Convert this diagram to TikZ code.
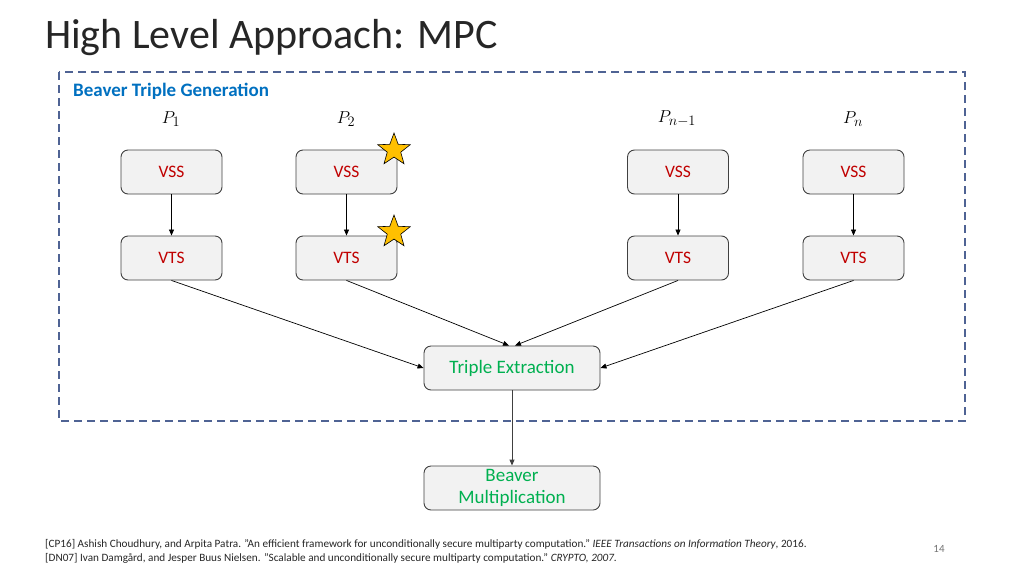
\documentclass[tikz,border=0pt]{standalone}
\usepackage{fontspec}
\setmainfont{Carlito}
\usetikzlibrary{arrows.meta,shapes.geometric}
\definecolor{boxfill}{HTML}{F2F2F2}
\definecolor{boxdraw}{HTML}{404040}
\definecolor{vred}{HTML}{C00000}
\definecolor{tgreen}{HTML}{00B050}
\definecolor{tblue}{HTML}{0070C0}
\definecolor{dashcol}{HTML}{4F6394}
\definecolor{starcol}{HTML}{FFC000}
\tikzset{
  proc/.style={draw=boxdraw, line width=0.9pt, fill=boxfill, rounded corners=7pt, minimum width=101pt, minimum height=44pt, inner sep=0pt, font=\fontsize{17.5}{20}\selectfont, text=vred},
  big/.style={proc, minimum width=176pt, text=tgreen, font=\fontsize{19}{22.5}\selectfont, align=center},
  arr/.style={-{Triangle[length=6pt,width=5pt]}, line width=0.7pt, black},
  plab/.style={font=\fontsize{19}{21}\selectfont},
  starshape/.style={star, star points=5, star point ratio=2.4, minimum size=34pt, inner sep=0pt, fill=starcol, draw=black, line width=0.6pt}
}
\begin{document}
\begin{tikzpicture}[x=1pt,y=-1pt]
\useasboundingbox (0,0) rectangle (1024,576);
\node[anchor=west, inner sep=0pt, font=\fontsize{42}{46}\selectfont, text=black!85] (title) at (45,38) {High Level Approach: MPC};
\draw[dashcol, line width=1.3pt, dash pattern=on 8pt off 5pt] (59,72) rectangle (965,421);
\node[anchor=west, inner sep=0pt, font=\fontsize{19}{21}\selectfont\bfseries, text=tblue] (btg) at (73,91) {Beaver Triple Generation};
\node[plab] (p1) at (171,119) {$P_1$};
\node[plab] (p2) at (346,119) {$P_2$};
\node[plab] (p3) at (677,119) {$P_{n-1}$};
\node[plab] (p4) at (853,119) {$P_n$};
\node[proc] (s1) at (171.5,172) {VSS};
\node[proc] (s2) at (346.5,172) {VSS};
\node[proc] (s3) at (678,172) {VSS};
\node[proc] (s4) at (853.5,172) {VSS};
\node[proc] (t1) at (171.5,258) {VTS};
\node[proc] (t2) at (346.5,258) {VTS};
\node[proc] (t3) at (678,258) {VTS};
\node[proc] (t4) at (853.5,258) {VTS};
\node[starshape] (st1) at (394,150) {};
\node[starshape] (st2) at (394,232) {};
\node[big] (te) at (512,368) {Triple Extraction};
\node[big] (bm) at (512,488) {Beaver\\Multiplication};
\draw[arr] (s1) -- (t1);
\draw[arr] (s2) -- (t2);
\draw[arr] (s3) -- (t3);
\draw[arr] (s4) -- (t4);
\draw[arr] (t1.south) -- (te.west);
\draw[arr] (t2.south) -- ([xshift=-3pt]te.north);
\draw[arr] (t3.south) -- ([xshift=3pt]te.north);
\draw[arr] (t4.south) -- (te.east);
\draw[arr, boxdraw, line width=1pt] (te) -- (bm);
\node[anchor=west, inner sep=0pt, align=left, font=\fontsize{11.2}{14}\selectfont, text=black!85] (refs) at (45,551) {[CP16] Ashish Choudhury, and Arpita Patra. "An efficient framework for unconditionally secure multiparty computation." \textit{IEEE Transactions on Information Theory}, 2016.\\
{}[DN07] Ivan Damgård, and Jesper Buus Nielsen. "Scalable and unconditionally secure multiparty computation." \textit{CRYPTO, 2007}.};
\node[font=\fontsize{11}{13}\selectfont, text=black!55] (pg) at (939,549) {14};
\end{tikzpicture}
\end{document}
